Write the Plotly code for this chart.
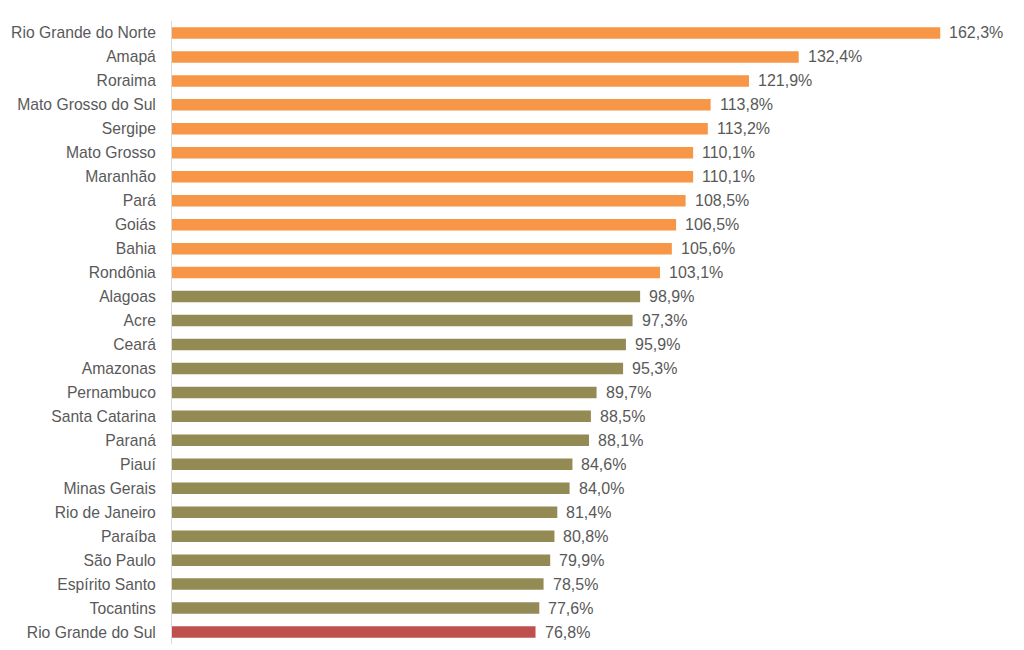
import plotly.graph_objects as go

states = ["Rio Grande do Norte", "Amapá", "Roraima", "Mato Grosso do Sul", "Sergipe",
          "Mato Grosso", "Maranhão", "Pará", "Goiás", "Bahia", "Rondônia", "Alagoas",
          "Acre", "Ceará", "Amazonas", "Pernambuco", "Santa Catarina", "Paraná", "Piauí",
          "Minas Gerais", "Rio de Janeiro", "Paraíba", "São Paulo", "Espírito Santo",
          "Tocantins", "Rio Grande do Sul"]
values = [162.3, 132.4, 121.9, 113.8, 113.2, 110.1, 110.1, 108.5, 106.5, 105.6, 103.1,
          98.9, 97.3, 95.9, 95.3, 89.7, 88.5, 88.1, 84.6, 84.0, 81.4, 80.8, 79.9, 78.5,
          77.6, 76.8]
groups = ["high"] * 11 + ["mid"] * 14 + ["rs"]
group_colors = {"high": "#F79646", "mid": "#948A54", "rs": "#C0504D"}

colors = [group_colors[g] for g in groups]
labels = [f"{v:.1f}%".replace(".", ",") for v in values]

FONT = "Liberation Sans, Arial, sans-serif"

fig = go.Figure(go.Bar(
    x=values, y=states, orientation="h",
    marker=dict(color=colors, line=dict(width=0)),
    width=0.48,
    hoverinfo="skip",
))

for s, v, t in zip(states, values, labels):
    fig.add_annotation(x=v, y=s, text=t, showarrow=False, xanchor="left",
                       xshift=7, yshift=0,
                       font=dict(size=16, color="#595959", family=FONT))

fig.update_layout(
    width=1024, height=650,
    margin=dict(l=172, r=0, t=21, b=6),
    paper_bgcolor="white", plot_bgcolor="white",
    showlegend=False,
    font=dict(family=FONT, size=15.7, color="#595959"),
    xaxis=dict(range=[0, 180], visible=False, showgrid=False, zeroline=False),
    yaxis=dict(categoryorder="array", categoryarray=states, autorange=False,
               range=[25.5, -0.5], showgrid=False, zeroline=False,
               showline=True, linecolor="#D9D9D9", linewidth=1,
               ticks="", ticklabelstandoff=12,
               tickfont=dict(size=15.7, color="#595959", family=FONT)),
)

fig.write_html("out.html")
